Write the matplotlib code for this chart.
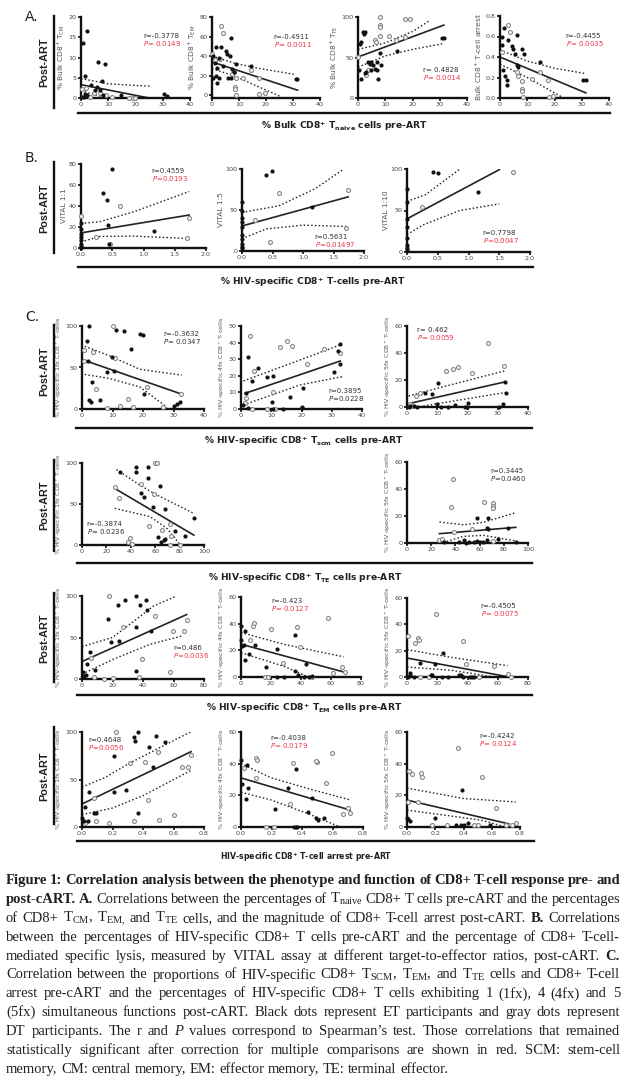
import matplotlib
matplotlib.use('Agg')
import matplotlib.pyplot as plt
from matplotlib.ticker import FormatStrFormatter

W, H = 626, 1077
plt.rcParams['font.family'] = ['DejaVu Sans']
plt.rcParams['mathtext.default'] = 'regular'

# ---------------- data ----------------
# Panel A: x = % bulk CD8+ Tnaive pre-ART
A1_et = [(2.3,16.6),(0.7,13.5),(6.4,8.9),(8.9,8.5),(1.6,5.4),(7.8,4.3),(3.5,3.2),(6.0,2.6),(5.1,1.9),(7.0,1.9),
         (1.5,1.1),(2.3,0.7),(0.4,0.3),(1.0,0.2),(8.2,0.7),(14.7,0.8),(30.6,0.9),(31.4,0.5)]
A1_dt = [(0.4,2.1),(2.0,2.4),(4.8,1.2),(7.0,1.2),(9.2,0.7),(11.4,0.3),(17.7,0.1),(18.9,0.1),(19.8,0.1),(3.3,0.2)]
A1_fit = [(0,3.3),(31.5,-0.86)]
A1_hi = [(0,4.8),(10,3.5),(20,3.1),(26,2.9)]
A1_lo = [(0,1.8),(5,0.8),(10,0)]

A2_et = [(0.5,40),(1.3,49),(3.5,49),(5,45),(5.5,42),(7,58),(6.5,40),(2.5,38),(1,33),(2,28),(4,30),(0.5,18),
         (1.5,20),(2.5,18),(2,12),(6,17),(7,17),(7.5,27),(8,24),(9,32),(14.5,30),(31,16),(31.5,16)]
A2_dt = [(3.5,71),(4,64),(0,42),(1,36),(8,24),(7.5,22),(9,17),(8.5,8),(8.5,6),(11.5,18),(14.5,26),(17.5,17),
         (17.5,1),(19.5,2),(8.8,0),(3,37)]
A2_fit = [(0,34),(31.7,5)]
A2_hi = [(0,40),(8,33),(16,28),(31,21)]
A2_lo = [(0,27),(8,20),(16,10),(25,-1)]

A3_et = [(1.2,69),(0.6,67),(2.2,79),(1.8,81),(2.5,81),(0.4,35),(1.2,23),(2.5,31),(3,32),(3.7,44),(4.3,42),
         (4.9,44),(5.5,41),(4.9,34),(6.2,36),(6.8,34),(6.8,44),(8.6,41),(8.0,56),(7.4,23),(14.4,58),(30.7,74),(31.5,74)]
A3_dt = [(8.2,100),(8,90),(8.2,88),(8,77),(6.3,72),(6.5,69),(11.2,76),(14,71),(17.3,97),(18.9,97),(17.3,75),
         (0,51),(3,28),(3.6,34)]
A3_fit = [(0,50.6),(31.5,90)]
A3_hi = [(0,60),(10,68),(20,82),(26,95)]
A3_lo = [(0,38),(10,52),(20,60),(31,67)]

A4_et = [(1.6,0.68),(0.6,0.6),(3,0.57),(0.6,0.52),(4.3,0.51),(4.9,0.48),(6.1,0.61),(7.9,0.48),(8.8,0.43),(5.5,0.43),
         (1.2,0.27),(1.8,0.21),(2.4,0.18),(2.7,0.13),(6.1,0.32),(6.7,0.3),(14.6,0.35),(30.5,0.18),(31.5,0.18)]
A4_dt = [(3,0.71),(3.7,0.64),(0.6,0.45),(6.1,0.25),(6.7,0.21),(8.2,0.17),(8.2,0.09),(8.2,0.07),(8.5,0.01),
         (11.6,0.19),(14.6,0.25),(17.7,0.18),(17.9,0.01),(19.5,0.02)]
A4_fit = [(0,0.40),(31.5,0.05)]
A4_hi = [(0,0.47),(10,0.36),(20,0.29),(31,0.24)]
A4_lo = [(0,0.33),(10,0.2),(20,0.05),(24,-0.01)]

# Panel B: x = % HIV-specific CD8+ T-cells pre-ART
B1_et = [(0.5,75.5),(0.35,52),(0.42,46),(0.43,21.8),(0.45,3.5),(1.16,16.3),(0,24),(0,18.5),(0,13),(0,10.5),
         (0,7.4),(0,4),(0,1.6),(0,0.3)]
B1_dt = [(0,30.7),(0.63,40),(0.24,10.5),(0.47,4.2),(1.69,9.6),(1.73,29)]
B1_fit = [(0,14.4),(1.73,31.4)]
B1_hi = [(0,23.4),(0.3,25),(0.85,34.6),(1.73,53.8)]
B1_lo = [(0,5.8),(0.3,11),(0.85,11.3),(1.73,9)]

B2_et = [(0.39,92.7),(0.49,97.5),(0,60),(0,48.8),(0,40.6),(0,35.8),(0,29.7),(0,19.5),(0,14.2),(0,8.5),
         (0,5.3),(0,3.2),(1.14,54)]
B2_dt = [(0.61,71),(0.22,37.8),(0.46,11),(1.74,74),(1.7,27.7)]
B2_fit = [(0,30.5),(1.74,66)]
B2_hi = [(0,47),(0.6,55),(1.2,76),(1.65,99)]
B2_lo = [(0,15),(0.4,27),(1.0,31.5),(1.71,30)]

B3_et = [(0.42,96.4),(0.5,95.6),(1.15,72.3),(0,76),(0,60),(0,40),(0,30),(0,17),(0,8.8),(0,4.8),(0,2)]
B3_dt = [(1.73,96.4),(0.24,54)]
B3_fit = [(0,40),(1.5,99.2)]
B3_hi = [(0,61),(0.3,69),(0.86,100)]
B3_lo = [(0,21),(0.27,33),(0.86,50),(1.5,58)]

# Panel C, row 1: x = % HIV-specific CD8+ Tscm
C11_et = [(2.3,100),(1.6,82),(11.3,95),(13.8,94),(19.0,90),(20.1,89),(16.2,72),(9.9,63),(10.5,46),(8.3,44),
          (3.4,33),(2.3,11),(3.1,8),(5.8,11),(20.3,18),(2.0,58),(30.0,4),(31.1,6),(32.1,9)]
C11_dt = [(10.2,100),(10.7,62),(0.5,58),(3.6,69),(4.5,24),(0.5,71),(15.1,12),(12.6,4),(16.6,3),(8.2,1),
          (21.4,26),(32.3,18),(26.6,2)]
C11_fit = [(0.5,59),(32.3,18.4)]
C11_hi = [(0.9,75.5),(9.1,64),(19,47.8),(32.7,40.8)]
C11_lo = [(0.9,41.6),(9.1,36.7),(19,26.5),(27.2,4),(27.7,0)]

C12_et = [(2.4,31.5),(5.7,24.5),(3.5,17),(8.5,19),(10.7,20),(1.7,9.4),(0.8,2.4),(2.4,0.4),(10.1,4.4),(16.2,7.4),
          (20.6,12.4),(20,1.4),(20,0.4),(14,0),(10.7,0),(32.6,39),(32.2,35),(32.8,27),(30.6,22.5)]
C12_dt = [(3,44),(4.4,23),(1.7,6.8),(1.3,3.4),(3.5,0),(10.7,10),(11.2,0),(12.9,37.6),(15.3,41),(16.8,38.2),
          (21.7,27.1),(8.5,0),(27.4,36),(32.6,33.5)]
C12_fit = [(1.3,9.4),(32.8,28.9)]
C12_hi = [(0.8,16.9),(19.5,29.5),(33.3,39)]
C12_lo = [(0.8,2.4),(19.5,14.5),(33.5,19.5)]

C13_et = [(10.4,18.1),(5.8,10.7),(8.2,9.9),(32.3,18.6),(32.7,10.7),(31.9,2),(30.4,0),(20.3,3.2),(15.9,1.7),
          (13.7,0),(9.9,2),(11.3,0),(19.2,0),(19.8,0),(1.1,1),(2.2,0.5),(3.3,0),(0.5,0)]
C13_dt = [(26.7,47.6),(12.9,26.8),(15.2,28),(16.7,29.3),(21.4,25),(32.2,30.2),(3.1,8.2),(4.4,10),(0.9,2),(1.5,1)]
C13_fit = [(0.5,2.5),(32.4,18.6)]
C13_hi = [(0.5,8.2),(12,15),(32.4,26.8)]
C13_lo = [(0.5,-1.2),(12,3.2),(32.4,10.7)]

# Panel C, row 2: x = % HIV-specific CD8+ TTE
C21_et = [(31.5,89),(44.2,95),(44.2,89),(54.3,95),(53.9,82),(64,72),(48,63),(51,58),(58.6,46),(68.2,44),
          (76.5,17.5),(84.8,11.4),(91.7,32.5),(61.9,10.2),(64.6,4.1),(66.9,6.1),(68.2,7.3)]
C21_dt = [(60,100),(61.8,100),(26.8,71),(30.1,57),(48,74),(59.1,62),(55,23),(65.5,18),(71.8,26),(72.9,11),
          (72.4,0),(39.2,8),(37.8,4),(40.6,1),(80,0)]
C21_fit = [(26.8,69),(91.7,12)]
C21_hi = [(28.2,92),(47.5,73),(61.3,61),(91.7,38.6)]
C21_lo = [(26.8,44.7),(55.8,34.6),(69.6,20.3),(80.7,0)]

C23_et = [(57.5,18.5),(66.6,18.5),(65.8,11.1),(67.1,10.3),(83.6,10.8),(75.3,3.2),(89.9,0.7),(30.5,0.5),
          (42.8,1),(46.9,2),(51,1),(55,0.5),(60.3,0.5),(63,1),(65.8,2),(57.5,1.5),(49,0)]
C23_dt = [(38.4,47.5),(36.4,26.6),(63.8,30.3),(70.7,29.6),(71.2,27.6),(71.2,25.9),(53.4,10.3),(38.9,8.1),
          (26.8,2),(28.8,3),(70.7,1.2)]
C23_fit = [(26.8,6.9),(89.9,11.6)]
C23_hi = [(26.8,15.5),(46.6,13.5),(63,15.3),(89,22.2)]
C23_lo = [(26.8,-0.5),(46.6,4.9),(63,5.7),(89,1.7)]

# Panel C, row 3: x = % HIV-specific CD8+ TEM
C31_et = [(23.7,89.6),(27.9,94.7),(35.6,100),(37.8,88.7),(42.2,95.6),(42.8,82.7),(35.1,62.7),(16.9,71.9),
          (45.5,57.6),(19.1,44),(24.2,46),(5.3,32),(3.1,17.6),(8.8,10.8),(35.6,10),(0.9,8.8),(1.5,4),(2.5,4.5),(0.5,3)]
C31_dt = [(17.5,100),(47.7,75.5),(27.2,62.7),(68.6,71.6),(59.8,57.6),(66.8,57.6),(5.9,25.6),(37.4,2.8),
          (39.3,23.6),(57.6,8),(8.1,2.8),(14.7,0),(20.2,0.8)]
C31_fit = [(0,21),(68.6,77.6)]
C31_hi = [(0,39),(20,50),(47,88),(62,100)]
C31_lo = [(0,6),(22,25),(45,42),(66,52)]

C32_et = [(0,38.5),(2.9,34.7),(36.2,31.6),(0,27.6),(1.8,24),(0.7,23.3),(9.1,24),(2.9,12.4),(5.1,17),(24,20.8),
          (16.7,7.3),(36.2,4.3),(43.6,9.4),(38,1.3),(41.8,0),(45.1,0),(47.3,0.5),(24,0),(28.4,0)]
C32_dt = [(7.8,38.5),(8.4,40.2),(20,36),(37.3,37.7),(5.8,27.6),(28,10.6),(39.6,22.5),(16.2,0),(17.9,0),
          (47.3,0),(57.7,44.3),(67.3,7.3),(69.5,3.8),(61.3,3)]
C32_fit = [(0,24.6),(68.4,3.8)]
C32_hi = [(0,33.4),(28.4,24.6),(44,20.8),(68.4,15.2)]
C32_lo = [(0,18.2),(28.4,8.1),(44,0.5),(55,-1)]

C33_et = [(23.7,18.2),(8.9,10.6),(18.8,9.9),(1.8,3),(2.2,1.8),(0.7,0),(4.9,0),(16,1.3),(16.6,1.3),(23.3,0),
          (27.3,0),(34.4,1.8),(35.9,1.3),(37.3,0),(41.7,0),(43.2,0),(44.3,0)]
C33_dt = [(0.7,30.9),(5.5,25.8),(7.1,29.6),(8.2,28.4),(37.3,27.1),(38.8,9.9),(57.2,8.1),(8.4,0),(14.4,0),
          (47.7,0),(66.5,2.5),(68.7,0),(19.5,48)]
C33_fit = [(0,14.4),(67.6,0)]
C33_hi = [(0,20.8),(28.8,15),(66.5,8.6)]
C33_lo = [(0,7.6),(30,5),(55,0.5),(62,-0.5)]

# Panel C, row 4: x = HIV-specific CD8+ T-cell arrest pre-ART
C41_et = [(0.207,74.7),(0.338,95),(0.35,90.5),(0.369,100),(0.437,84.5),(0.485,95.8),(0.546,89),(0.468,63.5),
          (0.048,36.8),(0.022,21.3),(0.095,15),(0.08,15),(0,10),(0.01,6),(0.04,6),(0.21,36.8),(0.29,39),(0.37,14.5)]
C41_dt = [(0.223,100),(0.317,67.7),(0.415,68.8),(0.496,78.6),(0.656,63.5),(0.697,63.5),(0.715,75.8),(0.08,30.5),
          (0.02,4),(0.092,6.5),(0.18,4),(0.344,6.1),(0.43,28.4),(0.507,7.4),(0.6,12.4)]
C41_fit = [(0,24.2),(0.715,79.3)]
C41_hi = [(0,42),(0.15,52),(0.31,67),(0.71,100)]
C41_lo = [(0,13),(0.2,20),(0.4,33),(0.72,60)]

C42_et = [(0,42.3),(0.041,39),(0.36,36.4),(0.007,27),(0.046,24.6),(0.033,17.6),(0.224,11.5),(0.31,24.6),
          (0.44,9.5),(0.466,18.3),(0.49,5.7),(0.505,4.4),(0.35,0),(0.36,0),(0.37,0),(0.544,5.7)]
C42_dt = [(0.022,37.5),(0.096,43.8),(0.103,42.3),(0.34,40.2),(0.496,41.3),(0.595,46.9),(0.49,41.7),(0.098,31),
          (0.32,14.5),(0.557,27.7),(0.164,0),(0.216,0),(0.668,8.2),(0.715,8.7),(0.702,12)]
C42_fit = [(0,31),(0.715,10.7)]
C42_hi = [(0,40),(0.2,31),(0.45,24),(0.72,17)]
C42_lo = [(0,22),(0.2,17),(0.45,8),(0.65,0)]

C43_et = [(0.39,23.4),(0,6),(0.01,5),(0.02,4),(0.2,5.7),(0.35,1.5),(0.38,1.5),(0.4,1.5),(0.43,2.5),(0.59,1.5)]
C43_dt = [(0.36,50),(0.016,35.4),(0.1,33.9),(0.035,33.5),(0.53,31.5),(0.106,31.5),(0.007,15.8),(0.078,15.8),
          (0.18,1),(0.28,1.5),(0.475,1),(0.5,1),(0.63,12),(0.7,1.5),(0.745,1.5),(0.77,2.5)]
C43_fit = [(0,17),(0.72,2)]
C43_hi = [(0,24.6),(0.4,18),(0.77,15.8)]
C43_lo = [(0,10.7),(0.52,4.4),(0.7,0)]

# Spearman r / P labels (red = significant after correction)
stats = {
    'A1': ('r=-0.3778', 'P= 0.0149', True), 'A2': ('r=-0.4911', 'P= 0.0011', True),
    'A3': ('r= 0.4828', 'P= 0.0014', True), 'A4': ('r=-0.4455', 'P= 0.0035', True),
    'B1': ('r=0.4559', 'P=0.0193', True), 'B2': ('r=0.5631', 'P=0.01497', True),
    'B3': ('r=0.7798', 'P=0.0047', True),
    'C11': ('r=-0.3632', 'P= 0.0347', False), 'C12': ('r=0.3895', 'P=0.0228', False),
    'C13': ('r= 0.462', 'P= 0.0059', True), 'C21': ('r=-0.3874', 'P= 0.0236', False),
    'C23': ('r=0.3445', 'P=0.0460', False), 'C31': ('r=0.486', 'P=0.0036', True),
    'C32': ('r=-0.423', 'P= 0.0127', True), 'C33': ('r=-0.4505', 'P= 0.0075', True),
    'C41': ('r=0.4648', 'P=0.0056', True), 'C42': ('r=-0.4038', 'P= 0.0179', True),
    'C43': ('r=-0.4242', 'P= 0.0124', True),
}

ylab_fx = '%% HIV-specific %s CD8$^{+}$ T-cells'
ylabels = {
    'A1': '% Bulk CD8$^{+}$ T$_{CM}$', 'A2': '% Bulk CD8$^{+}$ T$_{EM}$', 'A3': '% Bulk CD8$^{+}$ T$_{TE}$',
    'A4': 'Bulk CD8$^{+}$ T-cell arrest', 'B1': 'VITAL 1:1', 'B2': 'VITAL 1:5', 'B3': 'VITAL 1:10',
    'C11': ylab_fx % '1fx', 'C12': ylab_fx % '4fx', 'C13': ylab_fx % '5fx',
    'C21': ylab_fx % '1fx', 'C23': ylab_fx % '5fx',
    'C31': ylab_fx % '1fx', 'C32': ylab_fx % '4fx', 'C33': ylab_fx % '5fx',
    'C41': ylab_fx % '1fx', 'C42': ylab_fx % '4fx', 'C43': ylab_fx % '5fx',
}

row_titles = [
    r'% Bulk CD8$^{+}$ T$_{\mathregular{naive}}$ cells pre-ART',
    r'% HIV-specific CD8$^{+}$ T-cells pre-ART',
    r'% HIV-specific CD8$^{+}$ T$_{\mathregular{scm}}$ cells pre-ART',
    r'% HIV-specific CD8$^{+}$ T$_{\mathregular{TE}}$ cells pre-ART',
    r'% HIV-specific CD8$^{+}$ T$_{\mathregular{EM}}$ cells pre-ART',
    r'HIV-specific CD8$^{+}$ T-cell arrest pre-ART',
]

caption = [
    [('Figure 1: Correlation analysis between the phenotype and function of CD8+ T-cell response pre- and', 'b')],
    [('post-cART. A.', 'b'), (r'Correlations between the percentages of T$_{\mathregular{naive}}$ CD8+ T cells pre-cART and the percentages', 'r')],
    [(r'of CD8+ T$_{\mathregular{CM}}$, T$_{\mathregular{EM,}}$ and T$_{\mathregular{TE}}$ cells, and the magnitude of CD8+ T-cell arrest post-cART.', 'r'), ('B.', 'b'), ('Correlations', 'r')],
    [('between the percentages of HIV-specific CD8+ T cells pre-cART and the percentage of CD8+ T-cell-', 'r')],
    [('mediated specific lysis, measured by VITAL assay at different target-to-effector ratios, post-cART.', 'r'), ('C.', 'b')],
    [(r'Correlation between the proportions of HIV-specific CD8+ T$_{\mathregular{SCM}}$, T$_{\mathregular{EM}}$, and T$_{\mathregular{TE}}$ cells and CD8+ T-cell', 'r')],
    [('arrest pre-cART and the percentages of HIV-specific CD8+ T cells exhibiting 1 (1fx), 4 (4fx) and 5', 'r')],
    [('(5fx) simultaneous functions post-cART. Black dots represent ET participants and gray dots represent', 'r')],
    [('DT participants. The r and', 'r'), ('P', 'i'), ('values correspond to Spearman\u2019s test. Those correlations that remained', 'r')],
    [('statistically significant after correction for multiple comparisons are shown in red. SCM: stem-cell', 'r')],
    [('memory, CM: central memory, EM: effector memory, TE: terminal effector.', 'r')],
]

# ---------------- layout ----------------
# name: (data, box l r t b in px, xlim, xticks, ylim, yticks, stats text x, y)
panels = [
    ('A1', (A1_et, A1_dt, A1_fit, A1_hi, A1_lo), (81, 190, 17, 98), (0, 40), [0, 10, 20, 30, 40], (0, 20), [0, 5, 10, 15, 20], (22.9, 15.2)),
    ('A2', (A2_et, A2_dt, A2_fit, A2_hi, A2_lo), (212, 320, 17, 98), (0, 40), [0, 10, 20, 30, 40], (-3, 80), [0, 20, 40, 60, 80], (22.9, 60)),
    ('A3', (A3_et, A3_dt, A3_fit, A3_hi, A3_lo), (358, 467, 17, 98), (0, 40), [0, 10, 20, 30, 40], (0, 100), [0, 50, 100], (23.8, 34)),
    ('A4', (A4_et, A4_dt, A4_fit, A4_hi, A4_lo), (500, 609, 16, 98), (0, 40), [0, 10, 20, 30, 40], (0, 0.8), [0, 0.2, 0.4, 0.6, 0.8], (24.1, 0.605)),
    ('B1', (B1_et, B1_dt, B1_fit, B1_hi, B1_lo), (81, 206, 164, 248), (0, 2), [0, 0.5, 1, 1.5, 2], (0, 80), [0, 20, 40, 60, 80], (1.13, 73)),
    ('B2', (B2_et, B2_dt, B2_fit, B2_hi, B2_lo), (242, 364, 169, 251), (0, 2), [0, 0.5, 1, 1.5, 2], (0, 100), [0, 50, 100], (1.19, 17.4)),
    ('B3', (B3_et, B3_dt, B3_fit, B3_hi, B3_lo), (407, 530, 169, 252), (0, 2), [0, 0.5, 1, 1.5, 2], (0, 100), [0, 50, 100], (1.23, 23)),
    ('C11', (C11_et, C11_dt, C11_fit, C11_hi, C11_lo), (82, 204, 326, 409), (0, 40), [0, 10, 20, 30, 40], (0, 100), [0, 50, 100], (26.6, 89.8)),
    ('C12', (C12_et, C12_dt, C12_fit, C12_hi, C12_lo), (241, 362, 326, 409), (0, 40), [0, 10, 20, 30, 40], (0, 50), [0, 10, 20, 30, 40, 50], (28.8, 10.8)),
    ('C13', (C13_et, C13_dt, C13_fit, C13_hi, C13_lo), (407, 528, 326, 407), (0, 40), [0, 10, 20, 30, 40], (0, 60), [0, 20, 40, 60], (3.2, 57)),
    ('C21', (C21_et, C21_dt, C21_fit, C21_hi, C21_lo), (82, 204, 463, 545), (0, 100), [0, 20, 40, 60, 80, 100], (0, 100), [0, 50, 100], (3.9, 25.6)),
    ('C23', (C23_et, C23_dt, C23_fit, C23_hi, C23_lo), (407, 528, 462, 543), (0, 100), [0, 20, 40, 60, 80, 100], (0, 60), [0, 20, 40, 60], (68.5, 53)),
    ('C31', (C31_et, C31_dt, C31_fit, C31_hi, C31_lo), (82, 204, 596, 679), (0, 80), [0, 20, 40, 60, 80], (0, 100), [0, 50, 100], (59.8, 36.8)),
    ('C32', (C32_et, C32_dt, C32_fit, C32_hi, C32_lo), (241, 361, 597, 677), (0, 80), [0, 20, 40, 60, 80], (0, 60), [0, 20, 40, 60], (20, 56.7)),
    ('C33', (C33_et, C33_dt, C33_fit, C33_hi, C33_lo), (407, 528, 598, 677), (0, 80), [0, 20, 40, 60, 80], (0, 60), [0, 20, 40, 60], (48.8, 54)),
    ('C41', (C41_et, C41_dt, C41_fit, C41_hi, C41_lo), (82, 204, 732, 827), (0, 0.8), [0, 0.2, 0.4, 0.6, 0.8], (0, 100), [0, 50, 100], (0.04, 91.6)),
    ('C42', (C42_et, C42_dt, C42_fit, C42_hi, C42_lo), (241, 363, 732, 827), (0, 0.8), [0, 0.2, 0.4, 0.6, 0.8], (0, 60), [0, 20, 40, 60], (0.19, 56.4)),
    ('C43', (C43_et, C43_dt, C43_fit, C43_hi, C43_lo), (407, 520, 732, 827), (0, 0.8), [0, 0.2, 0.4, 0.6, 0.8], (0, 60), [0, 20, 40, 60], (0.51, 57.5)),
]

# Post-ART labels: (y centre, line top, line bottom); row titles: (line y, x0, x1, text y, text x, size)
post_art = [(62, 16, 108), (208, 162, 253), (371, 325, 416), (505, 460, 551), (638, 593, 682), (776, 727, 824)]
row_lines = [(113, 78, 610, 126, 344, 6.6), (267, 78, 533, 282, 313, 6.6), (428, 76, 532, 441, 304, 6.6),
             (563, 77, 532, 578, 305, 6.6), (695, 77, 532, 708, 304, 6.6), (841, 77, 534, 857, 306, 5.6)]
letters = [('A.', 32, 17), ('B.', 32, 158), ('C.', 32, 317)]

NARROW = ['Liberation Sans Narrow', 'DejaVu Sans']
RED = '#f0354c'
INK = '#231f20'


def rect(l, r, t, b):
    return [l / W, 1 - b / H, (r - l) / W, (b - t) / H]


fig = plt.figure(figsize=(W / 100, H / 100), dpi=100)

for name, (et, dt, fit, hi, lo), box, xl, xt, yl, yt, (tx, ry) in panels:
    ax = fig.add_axes(rect(*box))
    ax.set_xlim(*xl)
    ax.set_ylim(*yl)
    ax.set_xticks(xt)
    ax.set_yticks(yt)
    if xl[1] < 5:
        ax.xaxis.set_major_formatter(FormatStrFormatter('%.1f'))
    if yl[1] < 5:
        ax.yaxis.set_major_formatter(FormatStrFormatter('%.1f'))
    for s in ['top', 'right']:
        ax.spines[s].set_visible(False)
    for s in ['left', 'bottom']:
        ax.spines[s].set_linewidth(1.7)
        ax.spines[s].set_color('#111')
    ax.tick_params(direction='out', length=2.2, width=1.2, pad=1, labelsize=4.6, colors='#111',
                   labelcolor='#444')
    for lab in ax.get_xticklabels() + ax.get_yticklabels():
        lab.set_family(NARROW)
    for band in (hi, lo):
        ax.plot([p[0] for p in band], [p[1] for p in band], color='#222', lw=1.0, ls=(0, (1.1, 1.6)))
    ax.plot([p[0] for p in fit], [p[1] for p in fit], color='#222', lw=1.2)
    ax.scatter([p[0] for p in dt], [p[1] for p in dt], s=8, facecolor='white', edgecolor='#858585',
               linewidth=0.8, clip_on=False, zorder=4)
    ax.scatter([p[0] for p in et], [p[1] for p in et], s=9, color='#111', linewidth=0, clip_on=False, zorder=5)
    ax.set_ylabel(ylabels[name], fontsize=5.4 if name[0] != 'C' else 4.6, color='#555', labelpad=1,
                  family=NARROW)
    r_txt, p_txt, sig = stats[name]
    ax.text(tx, ry, r_txt, fontsize=5.0, color='#333', va='center', family=NARROW)
    ax.annotate(r'$\mathit{P}$' + p_txt[1:], (tx, ry), xytext=(0, -5.4), textcoords='offset points',
                fontsize=5.0, color=RED if sig else '#333', va='center', family=NARROW)

for yc, t, b in post_art:
    fig.text(44 / W, 1 - yc / H, 'Post-ART', rotation=90, fontsize=7.8, fontweight='bold',
             family='Liberation Sans', ha='center', va='center', color=INK)
    fig.add_artist(plt.Line2D([54 / W, 54 / W], [1 - t / H, 1 - b / H], color='#111', lw=1.7))

for (ly, x0, x1, ty, tx, fs), title in zip(row_lines, row_titles):
    fig.add_artist(plt.Line2D([x0 / W, x1 / W], [1 - ly / H, 1 - ly / H], color='#111', lw=1.7))
    fig.text(tx / W, 1 - ty / H, title, fontsize=fs, fontweight='bold', family='DejaVu Sans',
             ha='center', va='center', color=INK)

for txt, x, y in letters:
    fig.text(x / W, 1 - y / H, txt, fontsize=10, family='DejaVu Sans', ha='center', va='center', color=INK)

# caption, justified word by word, all words on a common baseline
renderer = fig.canvas.get_renderer()
cap_fs = 10.5
cap_l, cap_r = 6, 620
cap_base0, cap_dy = 884, 18.9
for i, segs in enumerate(caption):
    words = []
    for txt, st in segs:
        for w in txt.split():
            words.append(fig.text(0, 1 - (cap_base0 + i * cap_dy) / H, w, fontsize=cap_fs,
                                  family='Liberation Serif', color=INK, va='baseline', ha='left',
                                  fontweight='bold' if st == 'b' else 'normal',
                                  fontstyle='italic' if st == 'i' else 'normal'))
    widths = [t.get_window_extent(renderer).width for t in words]
    if i < len(caption) - 1:
        gap = (cap_r - cap_l - sum(widths)) / (len(words) - 1)
    else:
        gap = cap_fs * 100 / 72 * 0.25
    x = cap_l
    for t, w in zip(words, widths):
        t.set_x(x / W)
        x += w + gap

fig.savefig('out.png', dpi=100)
